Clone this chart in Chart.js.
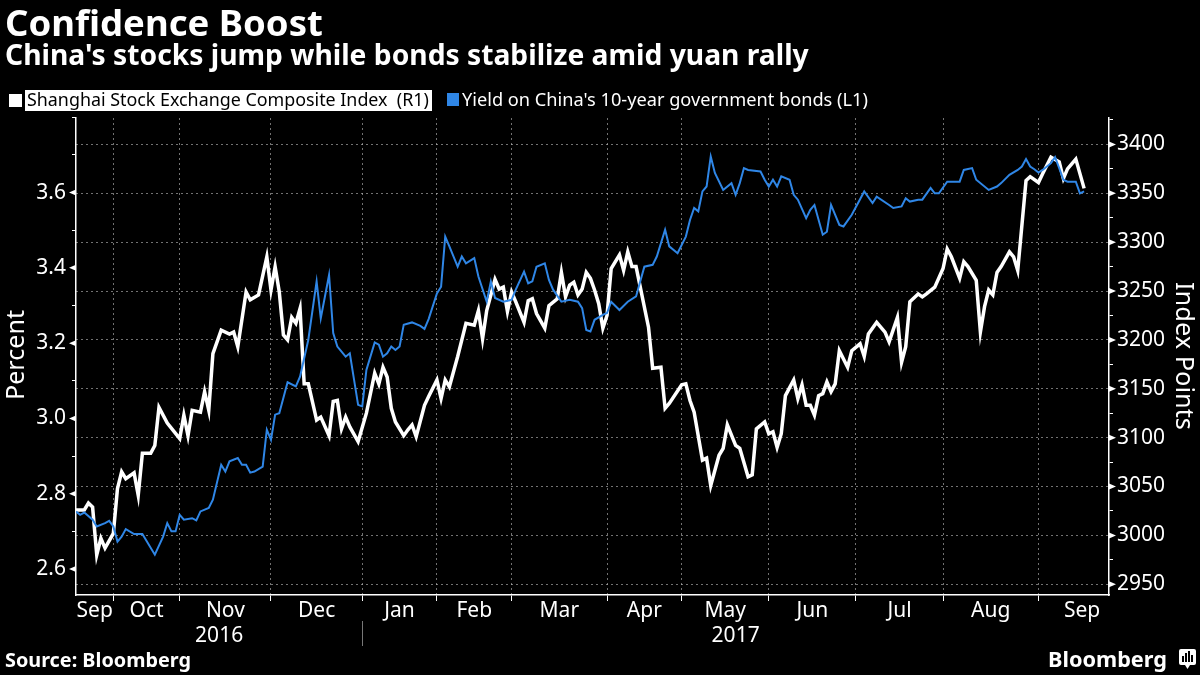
<!DOCTYPE html>
<html>
<head>
<meta charset="utf-8">
<script src="https://cdn.jsdelivr.net/npm/chart.js@4.4.1/dist/chart.umd.min.js"></script>
<style>
  html, body { margin: 0; padding: 0; background: #000; }
  #wrap { width: 1200px; height: 675px; }
</style>
</head>
<body>
<div id="wrap"><canvas id="chart" width="1200" height="675"></canvas></div>
<script>
// Trading-day index (0 = first session shown, mid Sep 2016) for each reading
const stockDays = [0,2,3,4,5,6,7,9,10,11,12,14,15,16,18,19,20,22,25,26,27,28,30,31,32,33,35,37,38,39,41,42,44,46,47,48,49,50,51,52,53,54,55,56,58,59,61,62,63,64,65,66,68,70,72,73,74,75,76,77,79,80,81,82,84,85,87,88,89,90,92,94,96,97,98,99,101,102,103,104,105,106,108,109,110,111,113,114,116,117,118,119,120,121,122,123,124,125,126,127,128,129,131,132,133,134,135,138,139,141,142,143,146,147,148,149,151,152,153,155,156,157,159,160,162,163,164,166,167,168,169,170,171,173,174,175,176,177,178,179,180,181,182,183,184,186,187,189,190,191,193,195,196,198,199,200,201,203,204,205,207,209,210,211,213,214,215,217,218,219,220,221,222,223,225,226,227,229,230,232,233,235,237,238,239,241,243];
const stockValues = [3026,3026,3033,3029,2980,2997,2987,3002,3048,3065,3058,3064,3041,3084,3084,3092,3131,3115,3099,3123,3102,3128,3126,3147,3128,3186,3210,3206,3208,3193,3249,3241,3246,3285,3251,3275,3249,3205,3200,3223,3217,3232,3155,3155,3118,3121,3102,3137,3138,3109,3121,3111,3096,3125,3166,3155,3172,3162,3130,3116,3102,3108,3113,3101,3133,3142,3159,3140,3159,3152,3183,3217,3215,3230,3201,3230,3262,3252,3254,3229,3249,3239,3218,3240,3242,3227,3212,3235,3242,3269,3244,3256,3259,3246,3252,3269,3263,3251,3237,3212,3225,3273,3287,3271,3290,3275,3275,3213,3171,3172,3130,3135,3154,3155,3138,3126,3077,3079,3051,3082,3089,3113,3092,3089,3060,3062,3109,3116,3104,3106,3090,3104,3143,3159,3140,3154,3133,3133,3123,3143,3145,3157,3147,3155,3189,3172,3189,3196,3183,3206,3218,3208,3198,3223,3177,3193,3239,3247,3244,3247,3254,3273,3293,3285,3263,3280,3275,3261,3208,3234,3251,3246,3269,3275,3290,3285,3271,3363,3367,3361,3370,3387,3382,3365,3375,3385,3355];

const yieldDays = [0,1,2,4,5,7,8,9,10,11,12,14,16,19,21,22,23,24,25,26,28,29,30,32,33,35,36,37,39,40,41,42,43,45,46,47,48,49,51,53,54,56,58,59,61,62,63,65,66,68,69,70,72,73,74,75,76,77,78,79,81,83,84,85,87,88,89,90,92,93,94,96,97,99,100,101,103,105,106,108,109,110,111,113,114,115,117,119,121,122,123,124,125,127,128,129,131,133,135,137,139,140,142,143,145,147,148,149,150,151,152,153,154,156,158,159,160,161,162,165,166,167,168,169,170,172,173,174,176,177,178,180,181,182,184,185,187,190,192,193,196,197,199,200,201,203,204,206,207,208,210,212,213,214,216,217,220,222,223,225,227,228,229,230,231,232,233,235,236,237,238,239,241,242,243];
const yieldValues = [2.753,2.744,2.750,2.731,2.713,2.722,2.728,2.713,2.673,2.686,2.706,2.693,2.693,2.638,2.686,2.722,2.700,2.700,2.744,2.731,2.735,2.729,2.753,2.762,2.784,2.877,2.859,2.886,2.895,2.877,2.877,2.856,2.859,2.872,2.970,2.943,3.010,3.014,3.096,3.085,3.111,3.209,3.364,3.266,3.381,3.227,3.191,3.164,3.173,3.036,3.032,3.129,3.202,3.196,3.164,3.173,3.191,3.182,3.191,3.249,3.255,3.246,3.238,3.264,3.332,3.350,3.483,3.457,3.403,3.430,3.412,3.426,3.377,3.310,3.364,3.320,3.310,3.315,3.342,3.390,3.359,3.364,3.403,3.412,3.368,3.342,3.310,3.315,3.310,3.293,3.235,3.231,3.262,3.275,3.280,3.310,3.288,3.310,3.324,3.403,3.408,3.430,3.501,3.457,3.439,3.483,3.527,3.559,3.550,3.603,3.616,3.696,3.652,3.607,3.625,3.594,3.625,3.665,3.660,3.656,3.634,3.616,3.634,3.616,3.643,3.634,3.594,3.581,3.532,3.554,3.567,3.488,3.496,3.567,3.514,3.510,3.541,3.603,3.572,3.589,3.567,3.559,3.563,3.585,3.576,3.581,3.581,3.612,3.598,3.598,3.629,3.629,3.629,3.660,3.665,3.634,3.607,3.616,3.625,3.647,3.660,3.669,3.689,3.669,3.662,3.653,3.660,3.678,3.694,3.665,3.634,3.629,3.629,3.598,3.603];

// x axis: first session of each month (trading-day index), label centres, years
const monthStarts = [9, 25, 47, 69, 87, 105, 128, 146, 167, 188, 209, 232];
const monthLabels = ['Sep', 'Oct', 'Nov', 'Dec', 'Jan', 'Feb', 'Mar', 'Apr', 'May', 'Jun', 'Jul', 'Aug', 'Sep'];
const monthCenters = [4.5, 17, 36, 58, 78, 96, 116.5, 137, 156.5, 177.5, 198.5, 220.5, 242.5];
const yearLabels = ['2016', '2017'];
const yearCenters = [34.5, 159];
const yearBreak = 69;
const dayRange = [0, 249];

// y axes: all tick marks, and the ones that carry a label
const percentTicks = [2.6, 2.7, 2.8, 2.9, 3.0, 3.1, 3.2, 3.3, 3.4, 3.5, 3.6, 3.7, 3.8];
const percentLabelled = [2.6, 2.8, 3.0, 3.2, 3.4, 3.6];
const percentRange = [2.531, 3.798];
const indexTicks = [2950, 2975, 3000, 3025, 3050, 3075, 3100, 3125, 3150, 3175, 3200, 3225, 3250, 3275, 3300, 3325, 3350, 3375, 3400, 3425];
const indexLabelled = [2950, 3000, 3050, 3100, 3150, 3200, 3250, 3300, 3350, 3400];
const indexRange = [2939, 3427];

const FONT = '"Noto Sans", "Open Sans", sans-serif';
const BLUE = '#2f86e6';
const GRID = 'rgba(190,190,190,0.6)';

const isLabelled = (list, v) => list.some(t => Math.abs(t - v) < 1e-6);

// size a font so the text spans the wanted width
function fitSize(ctx, text, weight, width) {
    ctx.font = `${weight} 100px ${FONT}`;
    return 100 * width / ctx.measureText(text).width;
}

function drawFitted(ctx, text, weight, x, y, width, color, align) {
    const size = fitSize(ctx, text, weight, width);
    ctx.font = `${weight} ${size}px ${FONT}`;
    ctx.fillStyle = color;
    ctx.textAlign = align || 'left';
    ctx.textBaseline = 'alphabetic';
    ctx.fillText(text, x, y);
}

const decorations = {
    id: 'decorations',
    afterDraw(chart) {
        const ctx = chart.ctx;
        const xs = chart.scales.x;
        const yl = chart.scales.y;
        const yr = chart.scales.y1;
        const area = chart.chartArea;
        ctx.save();

        // Title block
        drawFitted(ctx, 'Confidence Boost', 'bold', 5, 36, 318, '#fff');
        drawFitted(ctx, "China's stocks jump while bonds stabilize amid yuan rally", 'bold', 5, 65, 804, '#fff');

        // Legend
        ctx.fillStyle = '#fff';
        ctx.fillRect(9, 94, 13, 13);
        ctx.fillRect(25, 90, 407, 21);
        drawFitted(ctx, 'Shanghai Stock Exchange Composite Index  (R1)', 'normal', 27, 106, 402, '#000');
        ctx.fillStyle = BLUE;
        ctx.fillRect(447, 93, 12, 13);
        drawFitted(ctx, "Yield on China's 10-year government bonds (L1)", 'normal', 462, 106, 406, '#fff');

        // Arrow heads on labelled ticks
        ctx.fillStyle = '#fff';
        percentLabelled.forEach(v => {
            const py = yl.getPixelForValue(v);
            ctx.beginPath();
            ctx.moveTo(area.left, py - 3);
            ctx.lineTo(area.left - 7, py);
            ctx.lineTo(area.left, py + 3);
            ctx.fill();
        });
        indexLabelled.forEach(v => {
            const py = yr.getPixelForValue(v);
            ctx.beginPath();
            ctx.moveTo(area.right, py - 3);
            ctx.lineTo(area.right + 7, py);
            ctx.lineTo(area.right, py + 3);
            ctx.fill();
        });

        // Month and year labels
        ctx.font = `21px ${FONT}`;
        ctx.fillStyle = '#fff';
        ctx.textAlign = 'center';
        ctx.textBaseline = 'alphabetic';
        monthLabels.forEach((m, i) => {
            ctx.fillText(m, xs.getPixelForValue(monthCenters[i]), 617);
        });
        yearLabels.forEach((y, i) => {
            ctx.fillText(y, xs.getPixelForValue(yearCenters[i]), 642);
        });
        const bx = Math.round(xs.getPixelForValue(yearBreak)) + 0.5;
        ctx.strokeStyle = '#777';
        ctx.lineWidth = 1;
        ctx.beginPath();
        ctx.moveTo(bx, 621);
        ctx.lineTo(bx, 646);
        ctx.stroke();

        // Axis titles
        ctx.save();
        ctx.translate(24, 355);
        ctx.rotate(-Math.PI / 2);
        drawFitted(ctx, 'Percent', 'normal', 0, 0, 90, '#fff', 'center');
        ctx.restore();
        ctx.save();
        ctx.translate(1176, 356);
        ctx.rotate(Math.PI / 2);
        drawFitted(ctx, 'Index Points', 'normal', 0, 0, 148, '#fff', 'center');
        ctx.restore();

        // Footer
        drawFitted(ctx, 'Source: Bloomberg', 'bold', 5, 667, 186, '#fff');
        drawFitted(ctx, 'Bloomberg', 'bold', 1048, 667, 119, '#fff');
        // little logo badge
        ctx.fillStyle = '#fff';
        ctx.beginPath();
        ctx.roundRect(1179, 649, 17, 16, 2);
        ctx.fill();
        ctx.beginPath();
        ctx.moveTo(1185, 665);
        ctx.lineTo(1187.5, 669);
        ctx.lineTo(1190, 665);
        ctx.fill();
        ctx.fillStyle = '#000';
        [[1182, 6], [1185, 9], [1188, 11], [1191, 7]].forEach(([bxx, h]) => {
            ctx.fillRect(bxx, 662 - h, 2, h);
        });

        ctx.restore();
    }
};

const ctx = document.getElementById('chart').getContext('2d');
new Chart(ctx, {
    type: 'line',
    data: {
        datasets: [
            {
                label: "Yield on China's 10-year government bonds (L1)",
                data: yieldDays.map((d, i) => ({ x: d, y: yieldValues[i] })),
                yAxisID: 'y',
                borderColor: BLUE,
                borderWidth: 2,
                pointRadius: 0,
                tension: 0,
                order: 0
            },
            {
                label: 'Shanghai Stock Exchange Composite Index  (R1)',
                data: stockDays.map((d, i) => ({ x: d, y: stockValues[i] })),
                yAxisID: 'y1',
                borderColor: '#ffffff',
                borderWidth: 3.5,
                pointRadius: 0,
                tension: 0,
                order: 1
            }
        ]
    },
    options: {
        responsive: false,
        animation: false,
        devicePixelRatio: 1,
        layout: { padding: { top: 118, left: 0, right: 0, bottom: 0 } },
        plugins: {
            legend: { display: false },
            title: { display: false },
            tooltip: { enabled: false }
        },
        scales: {
            x: {
                type: 'linear',
                min: dayRange[0],
                max: dayRange[1],
                afterBuildTicks: axis => { axis.ticks = monthStarts.map(v => ({ value: v })); },
                afterFit: axis => { axis.height = 80; },
                ticks: { display: false },
                grid: { color: GRID, lineWidth: 1, tickColor: '#fff', tickLength: 6, drawTicks: true },
                border: { display: true, color: '#fff', width: 1.5, dash: [2, 3] }
            },
            y: {
                position: 'left',
                min: percentRange[0],
                max: percentRange[1],
                afterBuildTicks: axis => { axis.ticks = percentTicks.map(v => ({ value: v })); },
                afterFit: axis => { axis.width = 76; },
                ticks: {
                    autoSkip: false,
                    color: '#fff',
                    padding: 6,
                    font: { family: FONT, size: 21 },
                    callback: v => (isLabelled(percentLabelled, v) ? v.toFixed(1) : '')
                },
                grid: { drawOnChartArea: false, tickColor: '#fff', tickLength: 4 },
                border: { display: true, color: '#fff', width: 1.5 }
            },
            y1: {
                position: 'right',
                min: indexRange[0],
                max: indexRange[1],
                afterBuildTicks: axis => { axis.ticks = indexTicks.map(v => ({ value: v })); },
                afterFit: axis => { axis.width = 91; },
                ticks: {
                    autoSkip: false,
                    color: '#fff',
                    padding: 4,
                    font: { family: FONT, size: 21 },
                    callback: v => (isLabelled(indexLabelled, v) ? String(v) : '')
                },
                grid: {
                    drawOnChartArea: true,
                    color: c => (c.tick && isLabelled(indexLabelled, c.tick.value) ? GRID : 'rgba(0,0,0,0)'),
                    tickColor: '#fff',
                    tickLength: 4
                },
                border: { display: true, color: '#fff', width: 1.5, dash: [2, 3] }
            }
        }
    },
    plugins: [decorations]
});
</script>
</body>
</html>
